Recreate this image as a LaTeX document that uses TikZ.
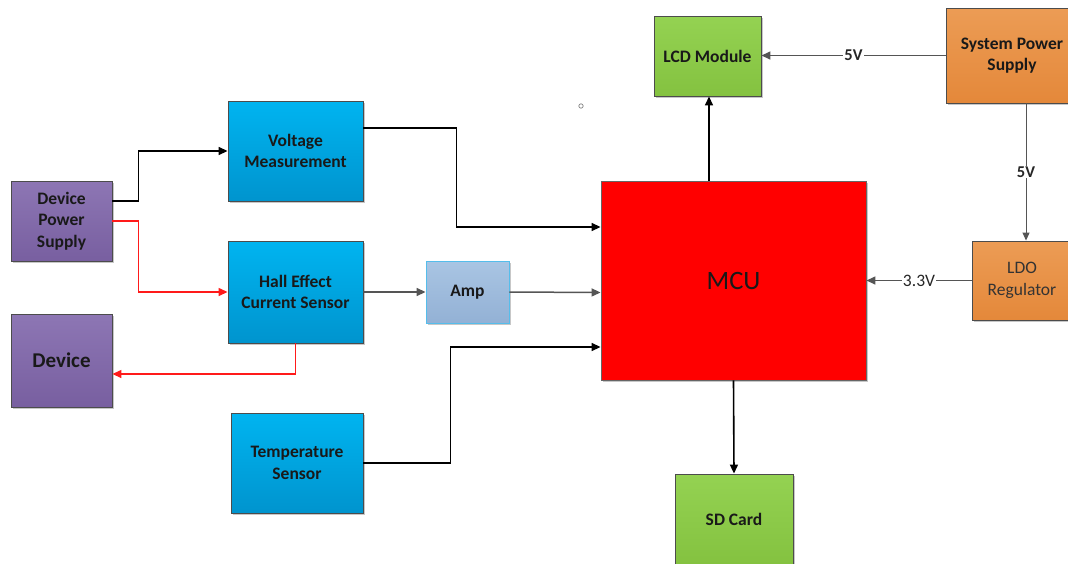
\documentclass[tikz,border=0pt]{standalone}
\usepackage{fontspec}
\setmainfont{Carlito}
\usetikzlibrary{shadows,arrows.meta}
\definecolor{bluetop}{HTML}{00B4F0}
\definecolor{bluebot}{HTML}{0094CE}
\definecolor{purtop}{HTML}{8D76B4}
\definecolor{purbot}{HTML}{785FA0}
\definecolor{grntop}{HTML}{94D252}
\definecolor{grnbot}{HTML}{84C240}
\definecolor{ortop}{HTML}{EC9C55}
\definecolor{orbot}{HTML}{E4883A}
\definecolor{amptop}{HTML}{A9C5E3}
\definecolor{ampbot}{HTML}{93B1D5}
\definecolor{ampedge}{HTML}{55BDEB}
\definecolor{connred}{HTML}{FF1A1A}
\definecolor{conngray}{HTML}{555555}
\begin{document}
\begin{tikzpicture}[x=1pt,y=-1pt,
  box/.style={draw=black!70, line width=0.9pt, rectangle, inner sep=2pt, align=center,
    font=\bfseries\fontsize{17.5}{21.5}\selectfont, text=black!90,
    drop shadow={shadow xshift=1.5pt, shadow yshift=-1.5pt, opacity=0.22, fill=black}},
  bluebox/.style={box, top color=bluetop, bottom color=bluebot},
  purbox/.style={box, top color=purtop, bottom color=purbot},
  grnbox/.style={box, top color=grntop, bottom color=grnbot},
  orbox/.style={box, top color=ortop, bottom color=orbot},
  blk/.style={draw=black, line width=1.6pt, -{Triangle[length=9pt,width=8pt]}},
  redl/.style={draw=connred, line width=1.4pt, -{Triangle[length=9pt,width=8pt]}},
  gry/.style={draw=conngray, line width=1.5pt, -{Triangle[length=9pt,width=8pt]}},
  thin/.style={draw=conngray, line width=0.9pt, -{Triangle[length=8pt,width=7pt]}},
  lbl/.style={fill=white, inner sep=1pt, text=black!85, font=\bfseries\fontsize{16.5}{18}\selectfont},
]
\clip (0,0) rectangle (1068,563);
\fill[white] (0,0) rectangle (1068,563);

\node[purbox, minimum width=101pt, minimum height=80pt] (dps) at (61.5,221) {Device\\Power\\Supply};
\node[purbox, minimum width=101pt, minimum height=93pt, font=\bfseries\fontsize{21}{24}\selectfont] (dev) at (61.5,360.5) {Device};
\node[bluebox, minimum width=135pt, minimum height=100pt] (vm) at (295.5,151) {Voltage\\Measurement};
\node[bluebox, minimum width=135pt, minimum height=102pt] (hall) at (295.5,292) {Hall Effect\\Current Sensor};
\node[bluebox, minimum width=132pt, minimum height=100pt] (temp) at (297,463) {Temperature\\Sensor};
\node[box, draw=ampedge, top color=amptop, bottom color=ampbot, minimum width=83pt, minimum height=62pt] (amp) at (467.5,292) {Amp};
\node[box, fill=red, draw=black!60, minimum width=265pt, minimum height=199pt, font=\fontsize{26.5}{30}\selectfont] (mcu) at (733.5,280.5) {MCU};
\node[grnbox, minimum width=107pt, minimum height=80pt] (lcd) at (707.5,56) {LCD Module};
\node[orbox, minimum width=132pt, minimum height=95pt] (sps) at (1012,55.5) {System Power\\Supply};
\node[orbox, minimum width=100pt, minimum height=79pt, font=\fontsize{17.5}{21.5}\selectfont, text=black!80] (ldo) at (1022,280.5) {LDO\\Regulator};
\node[grnbox, minimum width=118pt, minimum height=90pt] (sd) at (734,519) {SD Card};

% connectors
\draw[blk] ([yshift=20pt]dps.east) -- ++(26,0) |- (vm.west);
\draw[redl] (dps.east) -- ++(26,0) |- (hall.west);
\draw[redl] (hall.south) |- ([yshift=-13.5pt]dev.east);
\draw[blk] ([yshift=23pt]vm.east) -- ++(93,0) |- ([yshift=53.5pt]mcu.west);
\draw[gry] (hall.east) -- (amp.west);
\draw[gry] (amp.east) -- ([yshift=-12pt]mcu.west);
\draw[blk] (temp.east) -- ++(87,0) |- ([yshift=-66.5pt]mcu.west);
\draw[blk] ([xshift=-24.5pt]mcu.north) -- ([xshift=-24.5pt]mcu.north |- lcd.south);
\draw[blk] (mcu.south) -- (sd.north);
\draw[gry] (sps.west) -- node[lbl] {5V} (sps.west -| lcd.east);
\draw[thin] ([xshift=14pt]sps.south) -- node[lbl] {5V} ([xshift=14pt]sps.south |- ldo.north);
\draw[gry] (ldo.west) -- node[lbl, font=\fontsize{17.5}{19}\selectfont] {3.3V} (mcu.east);

\draw[gray, line width=0.7pt] (581,106) circle (2.2pt);
\end{tikzpicture}
\end{document}
